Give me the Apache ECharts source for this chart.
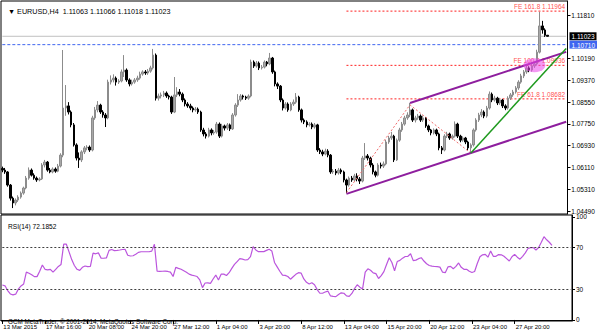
<!DOCTYPE html>
<html><head><meta charset="utf-8">
<script src="https://cdn.jsdelivr.net/npm/echarts@6/dist/echarts.min.js"></script>
<style>html,body{margin:0;padding:0;background:#fff}#c{width:600px;height:333px}</style>
</head><body><div id="c"></div>
<script>
const symbolName = 'EURUSD,H4';
const tickLabels = ['13 Mar 2015','17 Mar 16:00','20 Mar 08:00','24 Mar 20:00','27 Mar 12:00','1 Apr 04:00','3 Apr 20:00','8 Apr 12:00','13 Apr 04:00','15 Apr 20:00','20 Apr 12:00','23 Apr 04:00','27 Apr 20:00'];
const tickStep = 16;
const slotCount = 214;
// [open, close, low, high]
const ohlc = [
[1.0608,1.0602,1.0594,1.0615],[1.0602,1.0595,1.0588,1.0610],[1.0595,1.0546,1.0540,1.0598],[1.0546,1.0497,1.0488,1.0550],
[1.0497,1.0479,1.0460,1.0503],[1.0479,1.0490,1.0470,1.0496],[1.0490,1.0501,1.0483,1.0508],[1.0501,1.0516,1.0495,1.0522],
[1.0516,1.0535,1.0510,1.0540],[1.0535,1.0572,1.0530,1.0580],[1.0572,1.0602,1.0566,1.0612],[1.0602,1.0583,1.0578,1.0608],
[1.0583,1.0572,1.0566,1.0590],[1.0572,1.0565,1.0558,1.0578],[1.0565,1.0569,1.0560,1.0575],[1.0569,1.0621,1.0565,1.0628],
[1.0621,1.0632,1.0612,1.0640],[1.0632,1.0602,1.0596,1.0636],[1.0602,1.0595,1.0590,1.0610],[1.0595,1.0606,1.0590,1.0612],
[1.0606,1.0598,1.0592,1.0612],[1.0598,1.0617,1.0594,1.0625],[1.0617,1.0658,1.0612,1.0665],[1.0658,1.0834,1.0650,1.1051],
[1.0834,1.0842,1.0805,1.0920],[1.0842,1.0819,1.0810,1.0856],[1.0819,1.0771,1.0762,1.0825],[1.0771,1.0696,1.0690,1.0778],
[1.0696,1.0647,1.0638,1.0702],[1.0647,1.0640,1.0610,1.0668],[1.0640,1.0670,1.0632,1.0676],[1.0670,1.0685,1.0662,1.0692],
[1.0685,1.0688,1.0676,1.0695],[1.0688,1.0677,1.0670,1.0694],[1.0677,1.0797,1.0672,1.0805],[1.0797,1.0827,1.0790,1.0838],
[1.0827,1.0845,1.0818,1.0860],[1.0845,1.0819,1.0812,1.0850],[1.0819,1.0808,1.0798,1.0826],[1.0808,1.0797,1.0763,1.0815],
[1.0797,1.0931,1.0792,1.0940],[1.0931,1.0939,1.0922,1.0956],[1.0939,1.0946,1.0930,1.0960],[1.0946,1.0931,1.0918,1.0952],
[1.0931,1.0935,1.0924,1.0942],[1.0935,1.0969,1.0930,1.0978],[1.0969,1.0976,1.0950,1.1032],[1.0976,1.0939,1.0932,1.0982],
[1.0939,1.0924,1.0915,1.0945],[1.0924,1.0931,1.0918,1.0940],[1.0931,1.0939,1.0925,1.0946],[1.0939,1.0946,1.0932,1.0955],
[1.0946,1.0961,1.0940,1.0970],[1.0961,1.0969,1.0955,1.0975],[1.0969,1.0965,1.0958,1.0976],[1.0965,1.0972,1.0958,1.0980],
[1.0972,1.0984,1.0966,1.0992],[1.0984,1.1032,1.0978,1.1055],[1.1032,1.0871,1.0862,1.1038],[1.0871,1.0879,1.0862,1.0888],
[1.0879,1.0883,1.0870,1.0892],[1.0883,1.0890,1.0875,1.0898],[1.0890,1.0879,1.0872,1.0896],[1.0879,1.0875,1.0866,1.0884],
[1.0875,1.0819,1.0812,1.0880],[1.0819,1.0883,1.0815,1.0950],[1.0883,1.0894,1.0875,1.0912],[1.0894,1.0886,1.0878,1.0905],
[1.0886,1.0864,1.0856,1.0892],[1.0864,1.0849,1.0840,1.0870],[1.0849,1.0842,1.0835,1.0856],[1.0842,1.0834,1.0826,1.0850],
[1.0834,1.0827,1.0818,1.0840],[1.0827,1.0830,1.0820,1.0838],[1.0830,1.0819,1.0812,1.0836],[1.0819,1.0752,1.0745,1.0824],
[1.0752,1.0737,1.0728,1.0760],[1.0737,1.0729,1.0720,1.0744],[1.0729,1.0752,1.0724,1.0760],[1.0752,1.0741,1.0732,1.0758],
[1.0741,1.0744,1.0734,1.0752],[1.0744,1.0774,1.0738,1.0782],[1.0774,1.0729,1.0722,1.0780],[1.0729,1.0767,1.0724,1.0775],
[1.0767,1.0759,1.0750,1.0772],[1.0759,1.0771,1.0752,1.0778],[1.0771,1.0756,1.0748,1.0776],[1.0756,1.0808,1.0752,1.0815],
[1.0808,1.0845,1.0802,1.0852],[1.0845,1.0864,1.0838,1.0886],[1.0864,1.0879,1.0858,1.0886],[1.0879,1.0875,1.0866,1.0884],
[1.0875,1.0871,1.0864,1.0880],[1.0871,1.0879,1.0865,1.0885],[1.0879,1.1006,1.0874,1.1015],[1.1006,1.0991,1.0984,1.1012],
[1.0991,1.1002,1.0985,1.1010],[1.1002,1.0984,1.0976,1.1008],[1.0984,1.0987,1.0978,1.0995],[1.0987,1.1006,1.0982,1.1012],
[1.1006,1.0999,1.0990,1.1010],[1.0999,1.1021,1.0994,1.1040],[1.1021,1.0969,1.0962,1.1025],[1.0969,1.0924,1.0915,1.0974],
[1.0924,1.0916,1.0905,1.0930],[1.0916,1.0864,1.0856,1.0920],[1.0864,1.0834,1.0825,1.0870],[1.0834,1.0849,1.0828,1.0856],
[1.0849,1.0827,1.0820,1.0855],[1.0827,1.0849,1.0822,1.0856],[1.0849,1.0856,1.0842,1.0866],[1.0856,1.0875,1.0850,1.0890],
[1.0875,1.0827,1.0820,1.0880],[1.0827,1.0789,1.0780,1.0832],[1.0789,1.0782,1.0774,1.0795],[1.0782,1.0771,1.0762,1.0788],
[1.0771,1.0774,1.0765,1.0781],[1.0774,1.0763,1.0755,1.0780],[1.0763,1.0771,1.0757,1.0778],[1.0771,1.0677,1.0670,1.0775],
[1.0677,1.0670,1.0662,1.0684],[1.0670,1.0662,1.0654,1.0678],[1.0662,1.0673,1.0657,1.0682],[1.0673,1.0658,1.0650,1.0680],
[1.0658,1.0595,1.0588,1.0662],[1.0595,1.0598,1.0588,1.0606],[1.0598,1.0591,1.0583,1.0606],[1.0591,1.0602,1.0585,1.0610],
[1.0602,1.0595,1.0587,1.0608],[1.0595,1.0565,1.0556,1.0600],[1.0565,1.0546,1.0516,1.0570],[1.0546,1.0572,1.0540,1.0578],
[1.0572,1.0565,1.0558,1.0580],[1.0565,1.0580,1.0560,1.0588],[1.0580,1.0569,1.0560,1.0590],[1.0569,1.0561,1.0550,1.0576],
[1.0561,1.0647,1.0556,1.0655],[1.0647,1.0655,1.0640,1.0703],[1.0655,1.0647,1.0638,1.0662],[1.0647,1.0621,1.0612,1.0652],
[1.0621,1.0595,1.0586,1.0628],[1.0595,1.0583,1.0575,1.0600],[1.0583,1.0621,1.0578,1.0628],[1.0621,1.0617,1.0608,1.0630],
[1.0617,1.0625,1.0610,1.0634],[1.0625,1.0707,1.0620,1.0715],[1.0707,1.0722,1.0700,1.0730],[1.0722,1.0729,1.0715,1.0745],
[1.0729,1.0640,1.0632,1.0734],[1.0640,1.0714,1.0636,1.0720],[1.0714,1.0752,1.0708,1.0760],[1.0752,1.0774,1.0745,1.0782],
[1.0774,1.0797,1.0768,1.0805],[1.0797,1.0808,1.0790,1.0818],[1.0808,1.0827,1.0800,1.0853],[1.0827,1.0789,1.0782,1.0832],
[1.0789,1.0797,1.0780,1.0805],[1.0797,1.0804,1.0790,1.0812],[1.0804,1.0789,1.0782,1.0810],[1.0789,1.0797,1.0782,1.0806],
[1.0797,1.0767,1.0760,1.0800],[1.0767,1.0752,1.0744,1.0772],[1.0752,1.0741,1.0732,1.0756],[1.0741,1.0752,1.0735,1.0758],
[1.0752,1.0737,1.0729,1.0757],[1.0737,1.0685,1.0676,1.0742],[1.0685,1.0677,1.0662,1.0692],[1.0677,1.0729,1.0672,1.0736],
[1.0729,1.0737,1.0722,1.0745],[1.0737,1.0722,1.0715,1.0742],[1.0722,1.0729,1.0716,1.0735],[1.0729,1.0774,1.0724,1.0784],
[1.0774,1.0729,1.0722,1.0779],[1.0729,1.0714,1.0706,1.0734],[1.0714,1.0722,1.0708,1.0728],[1.0722,1.0707,1.0699,1.0726],
[1.0707,1.0685,1.0676,1.0712],[1.0685,1.0696,1.0665,1.0702],[1.0696,1.0752,1.0690,1.0758],[1.0752,1.0789,1.0746,1.0796],
[1.0789,1.0808,1.0782,1.0816],[1.0808,1.0819,1.0800,1.0830],[1.0819,1.0804,1.0796,1.0825],[1.0804,1.0834,1.0798,1.0842],
[1.0834,1.0886,1.0828,1.0896],[1.0886,1.0864,1.0856,1.0892],[1.0864,1.0871,1.0858,1.0880],[1.0871,1.0853,1.0845,1.0876],
[1.0853,1.0864,1.0846,1.0872],[1.0864,1.0842,1.0834,1.0868],[1.0842,1.0834,1.0826,1.0848],[1.0834,1.0871,1.0828,1.0878],
[1.0871,1.0883,1.0864,1.0890],[1.0883,1.0894,1.0876,1.0902],[1.0894,1.0909,1.0888,1.0916],[1.0909,1.0931,1.0902,1.0938],
[1.0931,1.0954,1.0925,1.0962],[1.0954,1.0969,1.0946,1.0976],[1.0969,1.0984,1.0962,1.0992],[1.0984,1.0976,1.0968,1.0990],
[1.0976,1.0991,1.0970,1.0998],[1.0991,1.0999,1.0984,1.1006],[1.0999,1.1043,1.0994,1.1052],[1.1043,1.1141,1.1038,1.1193],
[1.1141,1.1126,1.1112,1.1160],[1.1126,1.1106,1.1100,1.1132],[1.11063,1.11023,1.11018,1.11066]
];
const rsi = [
33.9,33.1,28.5,25.2,24.3,25.0,29.9,33.0,34.9,46.3,45.3,43.9,42.0,42.0,47.2,53.3,49.1,48.6,49.1,46.3,
49.1,51.9,53.8,73.4,73.4,66.0,58.5,52.8,49.1,48.0,51.0,52.3,51.7,51.9,64.8,64.1,65.0,59.9,59.8,60.1,
67.4,68.3,67.2,67.4,67.8,68.3,68.5,62.7,62.0,62.2,63.6,65.5,66.1,66.1,66.1,66.1,66.7,73.4,47.2,47.0,
47.2,47.3,47.0,46.3,42.1,51.0,50.0,49.1,47.7,46.3,44.4,43.5,42.8,42.1,38.8,31.3,35.8,36.0,35.5,39.7,
43.5,38.8,44.4,44.4,43.1,45.8,50.0,53.8,56.6,59.4,58.9,58.1,58.5,61.3,71.1,67.8,66.2,66.2,66.2,67.4,
68.5,66.9,55.7,51.4,47.2,43.5,43.2,42.1,39.5,41.9,44.2,45.8,45.3,39.7,36.5,34.9,36.0,34.1,29.4,25.9,
25.9,27.1,28.0,23.3,22.9,22.6,24.7,26.3,25.9,23.3,22.9,25.7,30.4,34.1,31.8,29.9,46.3,49.6,48.2,45.6,
44.9,40.2,43.0,46.8,53.8,60.3,55.7,47.7,56.6,57.7,59.9,61.5,61.7,64.1,57.5,58.0,59.4,60.3,57.1,54.5,
52.8,52.1,51.8,51.6,51.2,46.3,45.8,51.4,51.9,49.7,51.9,55.2,51.0,49.1,49.1,47.2,46.0,47.0,54.7,61.3,
63.1,63.6,60.8,66.9,61.7,61.7,63.4,63.1,61.7,59.4,57.1,61.3,63.6,60.8,58.9,61.7,65.0,69.2,70.1,70.1,
67.8,70.2,75.3,80.7,77.7,75.3,72.1852
];
const priceTicks = [1.1181,1.1019,1.0937,1.0855,1.0775,1.0693,1.0611,1.0531,1.0449];
const rsiTicks = [0,30,70,100];
const rsiLevels = [70,30];
const bidPrice = 1.11023;
const alertPrice = 1.10710;
const feNames = ['FE 161.8','FE 100.0','FE 61.8'];
const feLevels = [1.11964,1.09936,1.08682];
const feStartIndex = 130;
const fePoints = [[130,1.0518],[154,1.0846],[177,1.0665]];
const channelLower = [[130,1.0513],[213,1.0783]];
const channelUpper = [[154,1.0853],[213,1.1044]];
const trendGreen = [[177,1.0666],[213,1.1057]];
const highlight = [201,1.0994];

const FONT = "'Liberation Sans',Arial,sans-serif";
const RED = '#ff2020';
const cats = [];
for (let i = 0; i < slotCount; i++) {
  const k = i / tickStep;
  cats.push(i % tickStep === 0 && k < tickLabels.length ? tickLabels[k] : '');
}
const last = ohlc[ohlc.length - 1];
const headText = '\u25BC ' + symbolName + '  ' + [last[0], last[3], last[2], last[1]].map(v => v.toFixed(5)).join(' ');

// drawing objects as plain line series in data coordinates
const drawLine = (pts, color, type, width, z) => ({
  type: 'line', xAxisIndex: 0, yAxisIndex: 0, data: pts, symbol: 'none', silent: true, z: z || 3,
  lineStyle: {color: color, type: type, width: width}, itemStyle: {color: color}, emphasis: {disabled: true}
});
const drawSeries = [];
drawSeries.push(drawLine([[0, bidPrice], [slotCount - 1, bidPrice]], '#c0c0c0', 'solid', 1, 1));
drawSeries.push(drawLine([[0, alertPrice], [slotCount - 1, alertPrice]], '#3f66f0', [3, 2], 1, 1));
feLevels.forEach(lv => drawSeries.push(drawLine([[feStartIndex, lv], [slotCount - 1, lv]], RED, [2, 2], 1, 1)));
drawSeries.push(drawLine(fePoints, '#f06a6a', [2, 2], 1, 3));
drawSeries.push(drawLine(channelLower, '#8e1e9e', 'solid', 2, 4));
drawSeries.push(drawLine(channelUpper, '#8e1e9e', 'solid', 2, 4));
drawSeries.push(drawLine(trendGreen, '#1f9a1f', 'solid', 1.5, 4));

const priceLabelValues = priceTicks.concat([bidPrice, alertPrice]);
const axisFont = {fontSize: 6.5, color: '#000', fontFamily: FONT};
const chart = echarts.init(document.getElementById('c'), null, {renderer: 'svg'});
chart.setOption({
  animation: false,
  backgroundColor: '#fff',
  title: [
    {text: headText, left: 3, top: 3, textStyle: {fontSize: 7.2, fontWeight: 'normal', color: '#000', fontFamily: FONT}},
    {text: 'RSI(14) ' + rsi[rsi.length - 1].toFixed(4), left: 3, top: 218, textStyle: {fontSize: 6.6, fontWeight: 'normal', color: '#000', fontFamily: FONT}},
    {text: 'GCM MetaTrader, \u00A9 2001-2014, MetaQuotes Software Corp.', left: 3, top: 313, textStyle: {fontSize: 6.3, fontWeight: 'normal', color: '#000', fontFamily: FONT}}
  ],
  grid: [
    {left: 1, right: 28, top: 1, bottom: 119, show: true, borderColor: '#000', borderWidth: 1, backgroundColor: '#fff'},
    {left: 1, right: 28, top: 215, bottom: 12, show: true, borderColor: '#000', borderWidth: 1, backgroundColor: '#fff'}
  ],
  xAxis: [
    {type: 'category', gridIndex: 0, data: cats, boundaryGap: true, axisLine: {show: false}, axisTick: {show: false}, axisLabel: {show: false}, splitLine: {show: false}},
    {type: 'category', gridIndex: 1, data: cats, boundaryGap: true,
      axisLine: {show: true, lineStyle: {color: '#000'}},
      axisTick: {show: true, alignWithLabel: true, length: 4, lineStyle: {color: '#000'},
        interval: (i) => i % tickStep === 0 && i / tickStep < tickLabels.length},
      axisLabel: Object.assign({show: true, align: 'left', margin: 3, padding: [0, 0, 0, 1], hideOverlap: false,
        interval: (i) => i % tickStep === 0 && i / tickStep < tickLabels.length}, axisFont, {fontSize: 6}),
      splitLine: {show: false}}
  ],
  yAxis: [
    {type: 'value', gridIndex: 0, position: 'right', min: 1.04378, max: 1.12342,
      axisLine: {show: true, lineStyle: {color: '#000'}},
      axisTick: {show: true, length: 3, customValues: priceTicks, lineStyle: {color: '#000'}},
      axisLabel: Object.assign({show: true, margin: 2, hideOverlap: false, customValues: priceLabelValues,
        formatter: v => Math.abs(v - bidPrice) < 1e-7 ? '{bid|' + v.toFixed(5) + '}' :
          (Math.abs(v - alertPrice) < 1e-7 ? '{alert|' + v.toFixed(5) + '}' : ' ' + v.toFixed(5)),
        rich: {
          bid: {backgroundColor: '#000', color: '#fff', padding: [1, 2, 0, 2], fontSize: 6.5, fontFamily: FONT},
          alert: {backgroundColor: '#3f66f0', color: '#fff', padding: [1, 2, 0, 2], fontSize: 6.5, fontFamily: FONT}
        }}, axisFont),
      splitLine: {show: false}},
    {type: 'value', gridIndex: 1, position: 'right', min: -1, max: 101.7,
      axisLine: {show: true, lineStyle: {color: '#000'}},
      axisTick: {show: true, length: 3, customValues: rsiTicks, lineStyle: {color: '#000'}},
      axisLabel: Object.assign({show: true, margin: 4, customValues: rsiTicks, formatter: v => String(v)}, axisFont),
      splitLine: {show: false}}
  ],
  series: [
    {type: 'candlestick', xAxisIndex: 0, yAxisIndex: 0, data: ohlc, barWidth: 2, z: 2,
      itemStyle: {color: '#a8a8a8', color0: '#000', borderColor: '#8c8c8c', borderColor0: '#000', borderWidth: 1},
      markPoint: {silent: true, animation: false, data: [{coord: highlight, symbol: 'circle', symbolSize: [22, 14],
        itemStyle: {color: 'rgba(235,70,235,0.55)'}, label: {show: false}}]}
    },
    ...drawSeries,
    {type: 'scatter', name: 'feLabels', xAxisIndex: 0, yAxisIndex: 0, silent: true, z: 1,
      symbol: 'circle', symbolSize: 0.1, itemStyle: {color: 'rgba(0,0,0,0)'},
      data: feLevels.map((lv, k) => ({value: [slotCount - 1, lv], name: feNames[k]})),
      label: {show: true, position: 'left', distance: 1, offset: [0, -4.5],
        formatter: p => p.name + ' ' + p.value[1].toFixed(5), color: RED, fontSize: 6.5, fontFamily: FONT}
    },
    {type: 'line', xAxisIndex: 1, yAxisIndex: 1, data: rsi, symbol: 'none', smooth: false,
      lineStyle: {color: '#bb55dd', width: 1.2},
      markLine: {silent: true, symbol: ['none', 'none'], animation: false, label: {show: false},
        data: rsiLevels.map(v => [{coord: [0, v], lineStyle: {color: '#404040', type: [2, 2], width: 1}}, {coord: [slotCount - 1, v]}])}
    }
  ]
});
</script></body></html>
